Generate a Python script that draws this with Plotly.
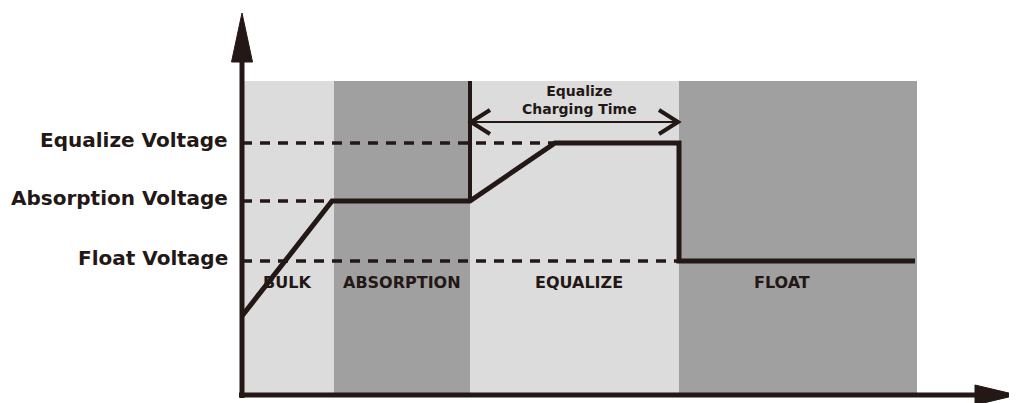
import plotly.graph_objects as go

# ---------------- data (time units along x, voltage units along y) ----------------
phase_names = ["BULK", "ABSORPTION", "EQUALIZE", "FLOAT"]
phase_edges = [0, 92, 228, 437, 675]
phase_label_t = [45, 160, 337, 540]
phase_label_v = 113
shade_top = 314

level_names = ["Equalize Voltage", "Absorption Voltage", "Float Voltage"]
level_values = [252, 194, 134]
level_dash_end = [313, 90, 437]

profile_t = [0, 90, 228, 313, 437, 437, 673]
profile_v = [79, 194, 194, 252, 252, 134, 134]

eq_marker_t = 228
eq_time_start = 228
eq_time_end = 437
eq_time_v = 273
eq_label = "Equalize<br>Charging Time"
eq_label_t = 337
eq_label_v = 295

x_axis_end = 775
y_axis_end = 382

# ---------------- style ----------------
INK = "#231815"
LIGHT = "#dcdcdc"
DARK = "#a0a0a0"
phase_colors = [LIGHT, DARK, LIGHT, DARK]
FONT = "DejaVu Sans"

fig = go.Figure()

# shaded phases
for i in range(len(phase_names)):
    fig.add_shape(type="rect", x0=phase_edges[i], x1=phase_edges[i + 1],
                  y0=0, y1=shade_top, fillcolor=phase_colors[i],
                  line=dict(width=0), layer="below")

# dashed voltage levels
for v, end in zip(level_values, level_dash_end):
    fig.add_trace(go.Scatter(x=[0, end], y=[v, v], mode="lines",
                             line=dict(color=INK, width=3.5, dash="10px,8px"),
                             hoverinfo="skip", showlegend=False))

# marker line at start of equalize
fig.add_trace(go.Scatter(x=[eq_marker_t, eq_marker_t], y=[profile_v[2], shade_top],
                         mode="lines", line=dict(color=INK, width=4),
                         hoverinfo="skip", showlegend=False))

# charging profile
fig.add_trace(go.Scatter(x=profile_t, y=profile_v, mode="lines",
                         line=dict(color=INK, width=5),
                         hoverinfo="skip", showlegend=False))

# equalize charging time double arrow
fig.add_trace(go.Scatter(x=[eq_time_start, eq_time_end], y=[eq_time_v, eq_time_v],
                         mode="lines", line=dict(color=INK, width=2.2),
                         hoverinfo="skip", showlegend=False))
arm_dx, arm_dy = 20, 12
fig.add_trace(go.Scatter(x=[eq_time_start + arm_dx, eq_time_start + 1, eq_time_start + arm_dx],
                         y=[eq_time_v + arm_dy, eq_time_v, eq_time_v - arm_dy],
                         mode="lines", line=dict(color=INK, width=4),
                         hoverinfo="skip", showlegend=False))
fig.add_trace(go.Scatter(x=[eq_time_end - arm_dx, eq_time_end - 1, eq_time_end - arm_dx],
                         y=[eq_time_v + arm_dy, eq_time_v, eq_time_v - arm_dy],
                         mode="lines", line=dict(color=INK, width=4),
                         hoverinfo="skip", showlegend=False))

# axes with arrowheads
head_len_y, head_half_y = 49, 10.5
head_len_x, head_half_x = 42, 10
fig.add_trace(go.Scatter(x=[0, 0], y=[-3, y_axis_end - head_len_y + 2], mode="lines",
                         line=dict(color=INK, width=5), hoverinfo="skip", showlegend=False))
fig.add_trace(go.Scatter(x=[-3, x_axis_end - head_len_x + 2], y=[0, 0], mode="lines",
                         line=dict(color=INK, width=5), hoverinfo="skip", showlegend=False))
fig.add_trace(go.Scatter(x=[-head_half_y, head_half_y, 0, -head_half_y],
                         y=[y_axis_end - head_len_y, y_axis_end - head_len_y, y_axis_end, y_axis_end - head_len_y],
                         mode="lines", fill="toself", fillcolor=INK,
                         line=dict(color=INK, width=1), hoverinfo="skip", showlegend=False))
fig.add_trace(go.Scatter(x=[x_axis_end - head_len_x, x_axis_end - head_len_x, x_axis_end, x_axis_end - head_len_x],
                         y=[-head_half_x, head_half_x, 0, -head_half_x],
                         mode="lines", fill="toself", fillcolor=INK,
                         line=dict(color=INK, width=1), hoverinfo="skip", showlegend=False))

# level labels
for name, v in zip(level_names, level_values):
    fig.add_annotation(x=-12, y=v, text="<b>" + name + "</b>", showarrow=False,
                       xanchor="right", yanchor="middle", yshift=3,
                       font=dict(family=FONT, size=20, color=INK))

# phase labels
for name, t in zip(phase_names, phase_label_t):
    fig.add_annotation(x=t, y=phase_label_v, text="<b>" + name + "</b>", showarrow=False,
                       xanchor="center", yanchor="middle",
                       font=dict(family=FONT, size=16, color=INK))

fig.add_annotation(x=eq_label_t, y=eq_label_v, text="<b>" + eq_label + "</b>", showarrow=False,
                   xanchor="center", yanchor="middle",
                   font=dict(family=FONT, size=14, color=INK))

# page has an 8px body margin: size the figure to fit the window exactly
fig.update_layout(
    width=1009, height=395,
    margin=dict(l=0, r=0, t=0, b=0),
    paper_bgcolor="white", plot_bgcolor="white",
    xaxis=dict(range=[-234, 775], visible=False, fixedrange=True),
    yaxis=dict(range=[-8, 387], visible=False, fixedrange=True),
    showlegend=False,
)

fig.write_html("out.html")
